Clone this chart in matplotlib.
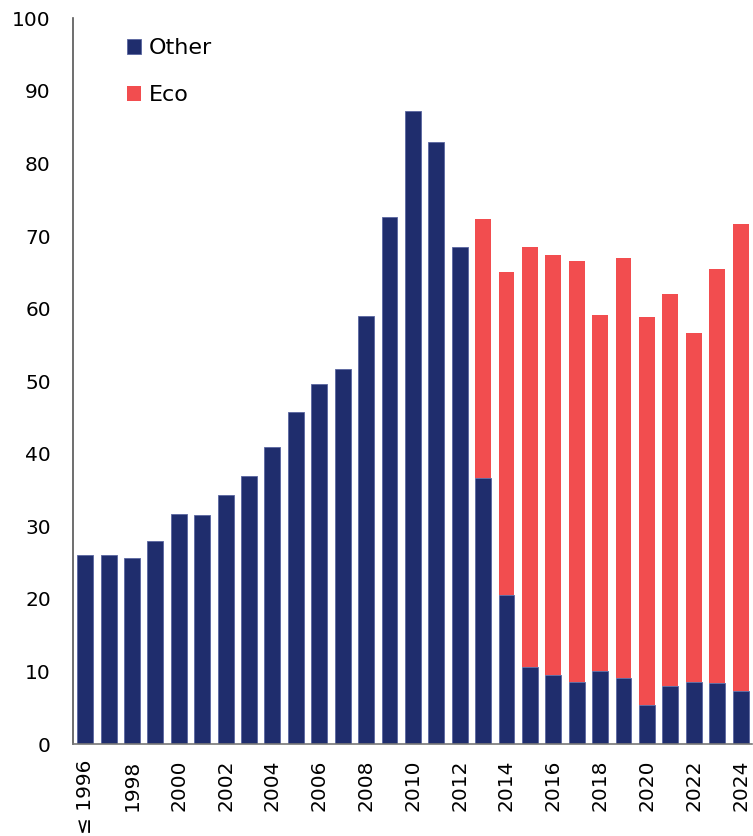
import matplotlib.pyplot as plt
import numpy as np

years = ["≤ 1996"] + [str(y) for y in range(1997, 2025)]
other = [26.0, 26.0, 25.6, 28.0, 31.7, 31.5, 34.3, 37.0, 40.9, 45.7,
         49.6, 51.7, 59.0, 72.6, 87.2, 82.9, 68.5, 36.6, 20.5, 10.6,
         9.5, 8.5, 10.0, 9.1, 5.4, 8.0, 8.5, 8.4, 7.3]
eco = [0, 0, 0, 0, 0, 0, 0, 0, 0, 0,
       0, 0, 0, 0, 0, 0, 0, 35.7, 44.5, 57.9,
       57.9, 58.1, 49.1, 57.9, 53.4, 54.0, 48.1, 57.0, 64.3]

blue = "#1f2d6d"
red = "#f24d4f"

fig = plt.figure(figsize=(7.53, 8.36), dpi=100)
ax = fig.add_axes([0.097, 0.11, 0.902, 0.868])

x = np.arange(len(years))
ax.bar(x, other, width=0.68, color=blue, edgecolor="#5a66a0", linewidth=0.6, label="Other")
ax.bar(x, eco, width=0.68, bottom=other, color=red, linewidth=0, label="Eco")

ax.set_xlim(-0.52, 28.5)
ax.set_ylim(0, 100)
ax.set_yticks(range(0, 101, 10))
ax.set_xticks(x[::2])
ax.set_xticklabels(years[::2], rotation=90)
ax.tick_params(axis="both", length=0, labelsize=14.5)
ax.tick_params(axis="y", pad=16)
ax.tick_params(axis="x", pad=11)

for s in ["top", "right"]:
    ax.spines[s].set_visible(False)
ax.spines["left"].set_color("#555555")
ax.spines["bottom"].set_color("#777777")
ax.spines["left"].set_linewidth(1.2)
ax.spines["bottom"].set_linewidth(1.2)

ax.legend(loc="upper left", bbox_to_anchor=(0.05, 1.0), frameon=False, fontsize=16,
          handlelength=0.65, handleheight=0.65, handletextpad=0.35, labelspacing=1.2)

fig.savefig("out.png", dpi=100)
